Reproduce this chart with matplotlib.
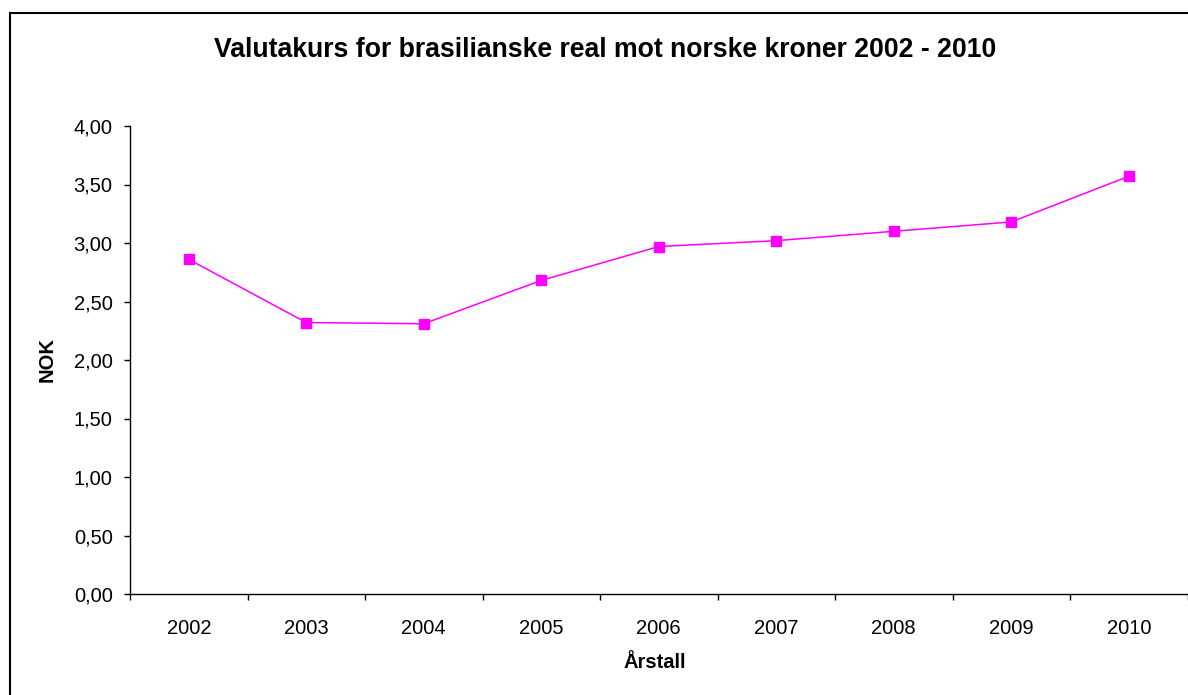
import numpy as np
import matplotlib.pyplot as plt
from matplotlib.patches import Rectangle
from matplotlib.ticker import FuncFormatter, FixedLocator

plt.rcParams['font.family'] = ['Liberation Sans', 'DejaVu Sans']

# data
years = ['2002', '2003', '2004', '2005', '2006', '2007', '2008', '2009', '2010']
kurs = [2.86, 2.32, 2.31, 2.68, 2.97, 3.02, 3.10, 3.18, 3.57]

W, H = 1188, 695
fig = plt.figure(figsize=(W / 100, H / 100), dpi=100)
ax = fig.add_axes([130 / W, 1 - 594 / H, 1057.5 / W, 468 / H])

x = np.arange(len(years))
ax.plot(x, kurs, color='#FF00FF', lw=1.1, marker='s', ms=6.5, mec='#FF00FF', mfc='#FF00FF')

ax.set_xlim(-0.5, len(years) - 0.5)
ax.set_ylim(0, 4)
ax.set_yticks(np.arange(0, 4.01, 0.5))
ax.yaxis.set_major_formatter(FuncFormatter(lambda v, p: f'{v:.2f}'.replace('.', ',')))

# excel style: labels centred in category, ticks on boundaries
ax.set_xticks(x)
ax.set_xticklabels(years)
ax.tick_params(axis='x', which='major', length=0, pad=18, labelsize=14.5)
ax.xaxis.set_minor_locator(FixedLocator(np.arange(-0.5, len(years), 1)))
ax.tick_params(axis='x', which='minor', length=4.5, width=1, direction='out')
ax.tick_params(axis='y', length=4.5, width=1, direction='out', pad=8, labelsize=14.5)

for s in ['top', 'right']:
    ax.spines[s].set_visible(False)
for s in ['left', 'bottom']:
    ax.spines[s].set_linewidth(1)

fig.text(47 / W, 1 - 360 / H, 'NOK', rotation=90, ha='center', va='center',
         fontsize=14.5, fontweight='bold')
fig.text(655 / W, 1 - 663 / H, 'Årstall', ha='center', va='center',
         fontsize=14.5, fontweight='bold')
fig.text(605 / W, 1 - 50 / H, 'Valutakurs for brasilianske real mot norske kroner 2002 - 2010',
         ha='center', va='center', fontsize=19.2, fontweight='bold')

# outer chart border
fig.patches.append(Rectangle((10 / W, -0.1), 1.2, 1 - 13 / H + 0.1, transform=fig.transFigure,
                             fill=False, ec='black', lw=1.5))

fig.savefig('out.png', dpi=100)
